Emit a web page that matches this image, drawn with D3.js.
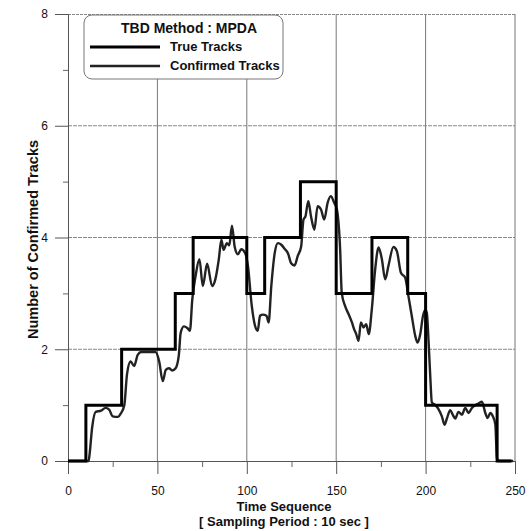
<!DOCTYPE html>
<html>
<head>
<meta charset="utf-8">
<script src="https://cdn.jsdelivr.net/npm/d3@7"></script>
<style>
  body { margin: 0; background: #fff; }
  text { font-family: Arial, "Liberation Sans", sans-serif; fill: #111; }
  .lbl { font-weight: bold; font-size: 13px; }
</style>
</head>
<body>
<div id="chart"></div>
<script>
// true tracks: step changes (time, count)
var trueT = [0, 10, 30, 60, 70, 100, 110, 130, 150, 170, 190, 200, 240, 248];
var trueV = [0, 1, 2, 3, 4, 3, 4, 5, 3, 4, 3, 1, 0, 0];

// confirmed tracks
var confT = [0, 11.5, 12, 13.5, 15.5, 18.5, 21, 23, 25, 28, 29.5, 31.5, 33, 35, 37, 39, 41, 49, 51, 53, 54.7, 56.5, 58.3, 60.2,
  62, 63, 64.8, 66.7, 68.2, 69.5, 71.3, 73.5, 75.4, 77.8, 80.6, 82.4, 84.3, 85.8, 87, 88.9, 90.2, 91.7, 93.2, 95, 96.9, 99.1,
  100.6, 102.8, 104.6, 106.1, 107.4, 109, 111, 112.2, 113.7, 115.6, 117.4, 119.3, 121.1, 123, 124.8, 126.7, 128.5, 130.4,
  131.7, 132.8, 134.4, 135.9, 137.8, 139.6, 141.5, 143.3, 145.2, 147, 148.9, 150.4, 152.2, 153.1, 155, 156.9, 158.8, 160,
  161.2, 162.5, 163.8, 165.3, 166.8, 168.2, 169.9, 171.8, 173.7, 175.5, 177.4, 179.2, 182, 183.9, 186.2, 188.6, 190.4,
  192.3, 194.2, 195.5, 197, 198.5, 199.8, 200.7, 201.6, 202.6, 203.5, 205.4, 207.2, 209.1, 210.6, 211.9, 213.8, 215.3,
  216.6, 218.4, 220.3, 222.2, 224, 225.9, 227.8, 229.6, 231.5, 233.4, 234.7, 236.2, 237.6, 239, 239.9, 240.8, 249];
var confV = [0, 0, 0.1, 0.6, 0.88, 0.9, 0.95, 0.92, 0.8, 0.79, 0.85, 1.0, 1.55, 1.78, 1.7, 1.9, 1.95, 1.95, 1.78, 1.43, 1.63, 1.66, 1.62, 1.66,
  1.9, 2.29, 2.41, 2.38, 2.33, 2.89, 3.3, 3.61, 3.13, 3.53, 3.13, 3.25, 3.6, 3.96, 3.78, 3.9, 3.86, 4.21, 3.84, 3.7, 3.79, 3.72,
  3.5, 2.77, 2.42, 2.33, 2.6, 2.62, 2.6, 2.48, 3.13, 3.72, 3.9, 3.87, 3.8, 3.72, 3.54, 3.5, 3.67, 3.84,
  4.32, 4.38, 4.65, 4.38, 4.14, 4.56, 4.5, 4.32, 4.62, 4.74, 4.62, 4.5, 3.79, 3.01, 2.77, 2.63, 2.48, 2.36,
  2.27, 2.15, 2.48, 2.39, 2.45, 2.27, 2.71, 3.43, 3.82, 3.62, 3.25, 3.49, 3.83, 3.76, 3.37, 3.28, 2.95,
  2.59, 2.24, 2.12, 2.27, 2.59, 2.71, 2.65, 2.18, 1.52, 1.05, 1.0, 0.93, 0.8, 0.65, 0.76, 0.91, 0.82,
  0.76, 0.88, 0.83, 0.95, 0.86, 0.95, 1.0, 1.03, 1.06, 0.86, 0.77, 0.86, 0.8, 0.65, 0.05, 0, 0];

var xTicks = [0, 50, 100, 150, 200, 250];
var xMinor = [25, 75, 125, 175, 225];
var yTicks = [0, 2, 4, 6, 8];
var yMinor = [1, 3, 5, 7];

var svgWidth = 531, svgHeight = 531;
var margin = { top: 14, right: 16, bottom: 70, left: 68 };
var width = svgWidth - margin.left - margin.right;
var height = svgHeight - margin.top - margin.bottom;

var svg = d3.select("#chart").append("svg")
  .attr("width", svgWidth)
  .attr("height", svgHeight);

var g = svg.append("g")
  .attr("transform", `translate(${margin.left}, ${margin.top})`);

var x = d3.scaleLinear().domain([0, 250]).range([0, width]);
var y = d3.scaleLinear().domain([0, 8]).range([height, 0]);

// grid
g.selectAll(".vgrid").data(xTicks.slice(1, -1)).enter().append("line")
  .attr("x1", d => x(d)).attr("x2", d => x(d))
  .attr("y1", 0).attr("y2", height)
  .attr("stroke", "#777").attr("stroke-width", 1);
g.selectAll(".hgrid").data(yTicks.slice(1, -1)).enter().append("line")
  .attr("x1", 0).attr("x2", width)
  .attr("y1", d => y(d)).attr("y2", d => y(d))
  .attr("stroke", "#888").attr("stroke-width", 1).attr("stroke-dasharray", "4,1");

// frame top/right
g.append("line").attr("x1", 0).attr("x2", width).attr("y1", 0.5).attr("y2", 0.5)
  .attr("stroke", "#888").attr("stroke-dasharray", "3,1");
g.append("line").attr("x1", width).attr("x2", width).attr("y1", 0).attr("y2", height)
  .attr("stroke", "#777");

// axes
var bottomAxis = d3.axisBottom(x).tickValues(xTicks).tickSize(13).tickPadding(12).tickFormat(d3.format("d"));
var leftAxis = d3.axisLeft(y).tickValues(yTicks).tickSize(13).tickPadding(7).tickFormat(d3.format("d"));

var xa = g.append("g").attr("transform", `translate(0, ${height})`).call(bottomAxis);
var ya = g.append("g").call(leftAxis);
[xa, ya].forEach(function(a) {
  a.select(".domain").attr("stroke", "#555");
  a.selectAll(".tick line").attr("stroke", "#555");
  a.selectAll("text").style("font-size", "12px").attr("fill", "#111");
});

g.append("g").attr("transform", `translate(0, ${height})`)
  .call(d3.axisBottom(x).tickValues(xMinor).tickSize(6).tickFormat(""))
  .call(s => s.select(".domain").remove())
  .selectAll("line").attr("stroke", "#666");
g.append("g")
  .call(d3.axisLeft(y).tickValues(yMinor).tickSize(5).tickFormat(""))
  .call(s => s.select(".domain").remove())
  .selectAll("line").attr("stroke", "#666");

// lines
var trueData = trueT.map((t, i) => ({ t: t, v: trueV[i] }));
var confData = confT.map((t, i) => ({ t: t, v: confV[i] }));

g.append("path").datum(confData)
  .attr("fill", "none").attr("stroke", "#222").attr("stroke-width", 2.4)
  .attr("stroke-linejoin", "round")
  .attr("d", d3.line().x(d => x(d.t)).y(d => y(d.v)).curve(d3.curveMonotoneX));

g.append("path").datum(trueData)
  .attr("fill", "none").attr("stroke", "#000").attr("stroke-width", 3)
  .attr("d", d3.line().x(d => x(d.t)).y(d => y(d.v)).curve(d3.curveStepAfter));

// axis labels
svg.append("text").attr("class", "lbl")
  .attr("x", 284).attr("y", 511)
  .attr("text-anchor", "middle").text("Time Sequence");
svg.append("text").attr("class", "lbl")
  .attr("x", 284).attr("y", 526)
  .attr("text-anchor", "middle").text("[ Sampling Period : 10 sec ]");
svg.append("text").attr("class", "lbl").style("font-size", "14.5px")
  .attr("transform", `translate(38, ${margin.top + y(4) + 2}) rotate(-90)`)
  .attr("text-anchor", "middle").text("Number of Confirmed Tracks");

// legend
var leg = svg.append("g");
leg.append("rect").attr("x", 84).attr("y", 15).attr("width", 199).attr("height", 64)
  .attr("rx", 8).attr("fill", "#fff").attr("stroke", "#777");
leg.append("text").attr("class", "lbl").style("font-size", "14px")
  .attr("x", 121).attr("y", 33).text("TBD Method : MPDA");
leg.append("line").attr("x1", 90).attr("x2", 160).attr("y1", 47).attr("y2", 47)
  .attr("stroke", "#000").attr("stroke-width", 3);
leg.append("text").attr("class", "lbl")
  .attr("x", 170).attr("y", 51).text("True Tracks");
leg.append("line").attr("x1", 90).attr("x2", 160).attr("y1", 66).attr("y2", 66)
  .attr("stroke", "#222").attr("stroke-width", 2.4);
leg.append("text").attr("class", "lbl")
  .attr("x", 170).attr("y", 70).text("Confirmed Tracks");
</script>
</body>
</html>
